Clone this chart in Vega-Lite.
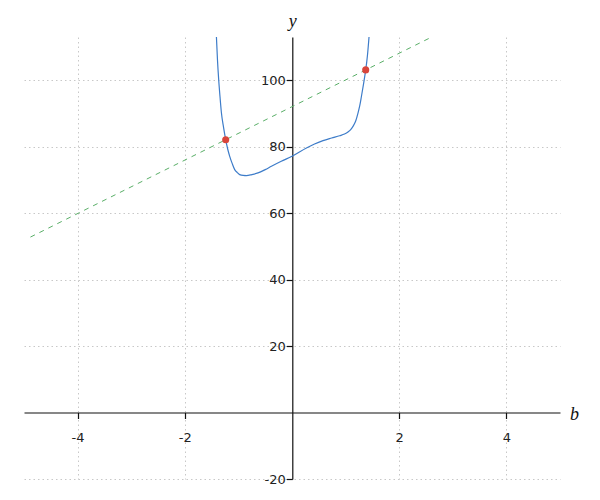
{
  "$schema": "https://vega.github.io/schema/vega-lite/v6.json",
  "width": 536,
  "height": 442,
  "autosize": "none",
  "padding": {"left": 24, "top": 37, "right": 40, "bottom": 21},
  "background": "white",
  "config": {
    "view": {"stroke": null},
    "axis": {
      "labelFont": "DejaVu Sans",
      "labelFontSize": 13,
      "labelColor": "#222",
      "domainColor": "#111",
      "domainWidth": 1.2,
      "tickColor": "#111",
      "tickWidth": 1.2,
      "tickSize": 6,
      "gridColor": "#c8c8c8",
      "gridDash": [1.5, 3],
      "gridWidth": 1,
      "titleFont": "Liberation Serif",
      "titleFontStyle": "italic",
      "titleFontWeight": "normal",
      "titleFontSize": 18,
      "titleColor": "#111"
    }
  },
  "datasets": {
    "curve": [
      {"x": -1.41, "y": 113},
      {"x": -1.39, "y": 106},
      {"x": -1.368, "y": 100.2},
      {"x": -1.343, "y": 95},
      {"x": -1.317, "y": 90.2},
      {"x": -1.277, "y": 85.8},
      {"x": -1.237, "y": 82.1},
      {"x": -1.2, "y": 79.3},
      {"x": -1.162, "y": 77.1},
      {"x": -1.115, "y": 74.9},
      {"x": -1.069, "y": 73.1},
      {"x": -1.02, "y": 72.2},
      {"x": -0.976, "y": 71.6},
      {"x": -0.91, "y": 71.35},
      {"x": -0.851, "y": 71.3},
      {"x": -0.75, "y": 71.6},
      {"x": -0.634, "y": 72.1},
      {"x": -0.5, "y": 73.1},
      {"x": -0.384, "y": 74.1},
      {"x": -0.2, "y": 75.6},
      {"x": 0, "y": 77.1},
      {"x": 0.269, "y": 79.6},
      {"x": 0.42, "y": 80.8},
      {"x": 0.578, "y": 81.8},
      {"x": 0.74, "y": 82.6},
      {"x": 0.89, "y": 83.3},
      {"x": 0.98, "y": 83.8},
      {"x": 1.045, "y": 84.4},
      {"x": 1.095, "y": 85.1},
      {"x": 1.138, "y": 86.1},
      {"x": 1.19, "y": 87.8},
      {"x": 1.231, "y": 90.1},
      {"x": 1.265, "y": 92.4},
      {"x": 1.295, "y": 95.1},
      {"x": 1.335, "y": 98.9},
      {"x": 1.375, "y": 103.1},
      {"x": 1.395, "y": 105.6},
      {"x": 1.412, "y": 108.2},
      {"x": 1.437, "y": 113}
    ],
    "tangent": [
      {"x": -4.88, "y": 52.8},
      {"x": 2.62, "y": 113.1}
    ],
    "points": [
      {"x": -1.237, "y": 82.1},
      {"x": 1.375, "y": 103.1}
    ]
  },
  "layer": [
    {
      "data": {"name": "tangent"},
      "mark": {"type": "line", "color": "#5aaf68", "strokeWidth": 1, "strokeDash": [5, 5], "clip": true},
      "encoding": {
        "x": {
          "field": "x",
          "type": "quantitative",
          "scale": {"domain": [-5, 5], "nice": false, "zero": false},
          "axis": {
            "orient": "bottom",
            "offset": -66.5,
            "values": [-4, -2, 2, 4],
            "labelExpr": "toString(datum.value)",
            "labelPadding": 13,
            "labelBaseline": "top",
            "grid": true,
            "title": "b",
            "titleX": 550,
            "titleY": 7,
            "titleAlign": "center",
            "titleBaseline": "alphabetic",
            "titleAngle": 0
          }
        },
        "y": {
          "field": "y",
          "type": "quantitative",
          "scale": {"domain": [-20, 113], "nice": false, "zero": false},
          "axis": {
            "orient": "left",
            "offset": -268.3,
            "values": [-20, 20, 40, 60, 80, 100],
            "labelExpr": "toString(datum.value)",
            "labelPadding": 1,
            "grid": true,
            "title": "y",
            "titleX": 0,
            "titleY": -11,
            "titleAlign": "center",
            "titleBaseline": "alphabetic",
            "titleAngle": 0
          }
        }
      }
    },
    {
      "data": {"name": "curve"},
      "mark": {"type": "line", "color": "#3d7cc9", "strokeWidth": 1.2, "interpolate": "monotone", "clip": true},
      "encoding": {
        "x": {"field": "x", "type": "quantitative"},
        "y": {"field": "y", "type": "quantitative"}
      }
    },
    {
      "data": {"name": "points"},
      "mark": {"type": "circle", "color": "#d9453b", "opacity": 1, "size": 50},
      "encoding": {
        "x": {"field": "x", "type": "quantitative"},
        "y": {"field": "y", "type": "quantitative"}
      }
    }
  ]
}
